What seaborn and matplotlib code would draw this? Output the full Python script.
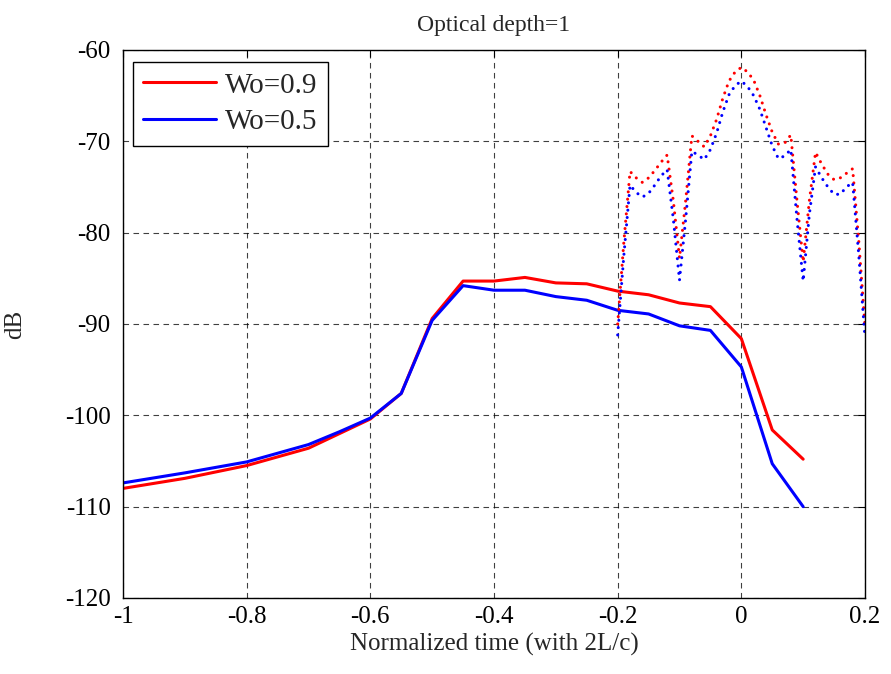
import numpy as np
import pandas as pd
import matplotlib
matplotlib.use("Agg")
import matplotlib.pyplot as plt
import seaborn as sns

# ---- data ----
t_solid = [-1.0, -0.9, -0.8, -0.7, -0.65, -0.6, -0.55, -0.5, -0.45, -0.4,
           -0.35, -0.3, -0.25, -0.2, -0.15, -0.1, -0.05, 0.0, 0.05, 0.1]
db_w09 = [-108.0, -106.9, -105.5, -103.6, -102.0, -100.4, -97.6, -89.4, -85.3, -85.3,
          -84.9, -85.5, -85.6, -86.4, -86.8, -87.7, -88.1, -91.6, -101.6, -104.8]
db_w05 = [-107.4, -106.3, -105.1, -103.2, -101.8, -100.3, -97.6, -89.6, -85.8, -86.3,
          -86.3, -87.0, -87.4, -88.5, -88.9, -90.2, -90.7, -94.7, -105.3, -110.0]

t_dot = [-0.20, -0.19, -0.18, -0.17, -0.16, -0.15, -0.14, -0.13, -0.12, -0.11,
         -0.10, -0.09, -0.08, -0.07, -0.06, -0.05, -0.04, -0.03, -0.02, -0.01,
         0.00, 0.01, 0.02, 0.03, 0.04, 0.05, 0.06, 0.07, 0.08, 0.09,
         0.10, 0.11, 0.12, 0.13, 0.14, 0.15, 0.16, 0.17, 0.18, 0.19, 0.20]
dot_w09 = [-90.0, -81.0, -73.3, -74.0, -74.5, -74.0, -73.2, -72.3, -71.5, -76.5,
           -82.8, -76.5, -69.4, -70.0, -70.6, -69.4, -67.6, -65.3, -63.4, -62.4,
           -61.9, -62.4, -63.3, -65.0, -67.1, -69.0, -70.3, -70.2, -69.3, -76.5,
           -83.2, -76.5, -71.2, -72.5, -73.6, -74.2, -74.0, -73.5, -73.0, -81.0, -90.2]
dot_w05 = [-91.2, -82.5, -74.8, -75.6, -76.1, -75.7, -74.8, -73.8, -73.1, -78.5,
           -85.2, -78.5, -71.1, -71.5, -72.0, -70.9, -69.1, -66.8, -64.9, -63.9,
           -63.4, -64.0, -65.0, -66.5, -68.5, -70.5, -71.9, -71.6, -70.9, -78.5,
           -85.3, -78.0, -72.8, -74.0, -75.0, -75.8, -75.8, -75.0, -74.5, -82.5, -91.5]

labels = ["Wo=0.9", "Wo=0.5"]
x_ticks = [-1, -0.8, -0.6, -0.4, -0.2, 0, 0.2]
x_ticklabels = ["-1", "-0.8", "-0.6", "-0.4", "-0.2", "0", "0.2"]
y_ticks = [-120, -110, -100, -90, -80, -70, -60]

# ---- style ----
sns.set_style("white")
plt.rcParams['font.family'] = ['Liberation Serif', 'DejaVu Serif']

fig = plt.figure(figsize=(8.91, 6.74), dpi=100)
ax = fig.add_axes([123/891, 1 - 598/674, 742/891, 548/674])

solid = pd.DataFrame({"t": t_solid, "a": db_w09, "b": db_w05})
dots = pd.DataFrame({"t": t_dot, "a": dot_w09, "b": dot_w05})

sns.lineplot(data=solid, x="t", y="a", ax=ax, color="#ff0000", lw=2.2, label=labels[0])
sns.lineplot(data=solid, x="t", y="b", ax=ax, color="#0000ff", lw=2.2, label=labels[1])
dot_style = dict(lw=2.2, ls=(0, (0.01, 2.4)), dash_capstyle='round')
sns.lineplot(data=dots, x="t", y="a", ax=ax, color="#ff0000", **dot_style)
sns.lineplot(data=dots, x="t", y="b", ax=ax, color="#0000ff", **dot_style)

ax.set_xlim(-1, 0.2)
ax.set_ylim(-120, -60)
ax.set_xticks(x_ticks)
ax.set_xticklabels(x_ticklabels)
ax.set_yticks(y_ticks)
ax.set_yticklabels([str(v) for v in y_ticks])
ax.tick_params(direction='in', top=True, right=True, length=5, width=0.8,
               labelsize=18, pad=9, colors='black')
ax.tick_params(axis='x', pad=6)
ax.grid(True, color='black', ls=(0, (5, 4)), lw=0.8, alpha=0.75)
for s in ax.spines.values():
    s.set_color('black')
    s.set_linewidth(1.0)

ax.set_title("Optical depth=1", fontsize=17, pad=14)
ax.set_xlabel("Normalized time (with 2L/c)", fontsize=18, labelpad=3)
ax.set_ylabel("dB", fontsize=18, labelpad=28)

leg = ax.legend(loc='upper left', bbox_to_anchor=(0.0135, 0.978), fontsize=21,
                frameon=True, fancybox=False, edgecolor='black', framealpha=1,
                handlelength=2.5, handletextpad=0.3, borderpad=0.35,
                labelspacing=0.35, borderaxespad=0)
leg.get_frame().set_linewidth(1.0)

fig.savefig("out.png", dpi=100)
